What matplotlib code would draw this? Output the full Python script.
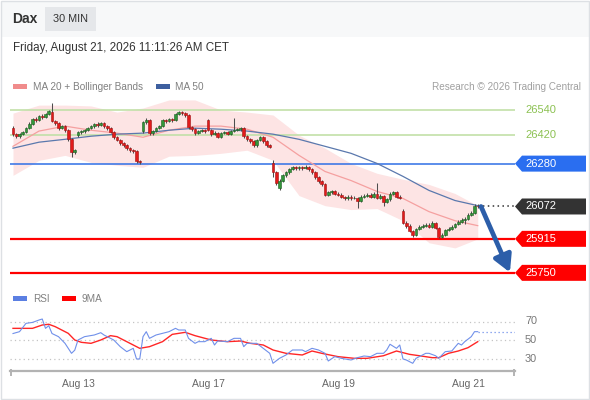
import matplotlib
matplotlib.use("Agg")
import matplotlib.pyplot as plt
import matplotlib.transforms as mtransforms
from matplotlib.patches import Rectangle, Polygon

plt.rcParams["font.family"] = ["Liberation Sans", "DejaVu Sans"]

# ---- data (30 min candles, Aug 12 - Aug 21) ----
opens = [
    26452, 26423, 26413, 26423, 26433, 26452, 26472, 26496, 26491, 26511,
    26506, 26520, 26530, 26486, 26477, 26452, 26462, 26442, 26398, 26335,
    26418, 26433, 26438, 26442, 26452, 26462, 26472, 26467, 26477, 26462,
    26452, 26433, 26408, 26394, 26379, 26369, 26355, 26345, 26340, 26291,
    26438, 26481, 26491, 26428, 26438, 26452, 26462, 26491, 26486, 26496,
    26491, 26520, 26530, 26525, 26516, 26457, 26447, 26428, 26438, 26442,
    26491, 26442, 26423, 26428, 26408, 26428, 26433, 26423, 26438, 26442,
    26447, 26452, 26413, 26398, 26389, 26369, 26394, 26408, 26389, 26369,
    26281, 26237, 26164, 26198, 26223, 26237, 26252, 26262, 26257, 26262,
    26257, 26262, 26252, 26237, 26213, 26194, 26179, 26130, 26140, 26145,
    26135, 26130, 26120, 26111, 26120, 26111, 26115, 26101, 26120, 26125,
    26130, 26120, 26135, 26115, 26125, 26096, 26106, 26135, 26140, 26120,
    26052, 25993, 25979, 25954, 25935, 25964, 25974, 25979, 25984, 25974,
    25993, 25969, 25925, 25935, 25959, 25964, 25974, 25988, 25998, 26008,
    26013, 26032, 26042, 26076,
]
closes = [
    26423, 26413, 26423, 26433, 26452, 26472, 26496, 26491, 26511, 26506,
    26520, 26535, 26486, 26477, 26452, 26462, 26442, 26398, 26335, 26345,
    26433, 26438, 26442, 26452, 26462, 26472, 26467, 26477, 26462, 26452,
    26433, 26408, 26394, 26379, 26369, 26355, 26345, 26340, 26291, 26286,
    26481, 26491, 26428, 26438, 26452, 26462, 26491, 26486, 26496, 26491,
    26520, 26530, 26525, 26516, 26457, 26447, 26428, 26438, 26442, 26438,
    26442, 26423, 26428, 26408, 26428, 26433, 26423, 26438, 26442, 26447,
    26452, 26413, 26398, 26389, 26369, 26394, 26408, 26389, 26369, 26359,
    26237, 26184, 26198, 26223, 26237, 26252, 26262, 26257, 26262, 26257,
    26262, 26252, 26237, 26213, 26194, 26179, 26130, 26140, 26145, 26135,
    26130, 26120, 26111, 26120, 26111, 26115, 26101, 26120, 26125, 26130,
    26120, 26135, 26115, 26125, 26096, 26106, 26135, 26140, 26120, 26115,
    25993, 25979, 25954, 25935, 25964, 25974, 25979, 25984, 25974, 25993,
    25969, 25925, 25935, 25959, 25964, 25974, 25988, 25998, 26008, 26013,
    26032, 26042, 26076, 26072,
]
highs = [
    26462, 26430, 26430, 26440, 26458, 26480, 26503, 26506, 26518, 26520,
    26528, 26542, 26574, 26494, 26484, 26468, 26468, 26447, 26403, 26352,
    26440, 26445, 26450, 26458, 26468, 26478, 26480, 26484, 26482, 26468,
    26457, 26438, 26414, 26400, 26385, 26374, 26362, 26352, 26346, 26296,
    26488, 26503, 26496, 26445, 26458, 26468, 26498, 26498, 26503, 26503,
    26527, 26537, 26537, 26530, 26521, 26464, 26452, 26445, 26450, 26448,
    26498, 26448, 26437, 26433, 26434, 26440, 26440, 26444, 26501, 26455,
    26458, 26457, 26418, 26405, 26395, 26400, 26415, 26413, 26394, 26374,
    26296, 26242, 26204, 26230, 26244, 26258, 26270, 26268, 26270, 26268,
    26272, 26267, 26257, 26242, 26218, 26200, 26184, 26148, 26152, 26150,
    26142, 26136, 26125, 26127, 26126, 26122, 26120, 26126, 26132, 26137,
    26136, 26142, 26184, 26132, 26130, 26114, 26142, 26148, 26145, 26126,
    26058, 26000, 25985, 25960, 25970, 25982, 25986, 25992, 25990, 26003,
    25998, 25974, 25945, 25965, 25972, 25980, 25994, 26005, 26014, 26020,
    26038, 26050, 26082, 26084,
]
lows = [
    26413, 26403, 26405, 26418, 26428, 26447, 26467, 26484, 26486, 26498,
    26500, 26515, 26480, 26468, 26445, 26447, 26435, 26390, 26311, 26328,
    26410, 26426, 26430, 26437, 26447, 26455, 26460, 26462, 26455, 26445,
    26427, 26400, 26388, 26372, 26362, 26348, 26338, 26330, 26284, 26276,
    26430, 26474, 26420, 26420, 26432, 26446, 26457, 26478, 26480, 26484,
    26486, 26514, 26518, 26508, 26450, 26440, 26420, 26422, 26432, 26430,
    26436, 26416, 26417, 26402, 26403, 26422, 26417, 26418, 26432, 26436,
    26440, 26406, 26390, 26380, 26362, 26363, 26388, 26382, 26362, 26354,
    26213, 26176, 26150, 26192, 26217, 26232, 26247, 26250, 26250, 26250,
    26252, 26245, 26230, 26206, 26186, 26172, 26122, 26124, 26134, 26128,
    26122, 26112, 26103, 26105, 26104, 26106, 26067, 26096, 26114, 26118,
    26114, 26115, 26108, 26109, 26076, 26090, 26100, 26128, 26113, 26108,
    25986, 25970, 25946, 25925, 25930, 25958, 25968, 25972, 25966, 25968,
    25962, 25918, 25918, 25930, 25952, 25957, 25968, 25982, 25992, 25985,
    26006, 26026, 26036, 26064,
]

# MA 20 / Bollinger / MA 50, read every 8 candles
ma_idx = [0, 8, 16, 24, 32, 40, 48, 56, 64, 72, 80, 88, 96, 104, 112, 120, 128, 136, 143]
ma20 = [26364, 26438, 26462, 26442, 26428, 26408, 26442, 26462, 26462, 26447,
        26408, 26320, 26242, 26198, 26145, 26111, 26047, 26003, 25979]
ma50 = [26355, 26384, 26398, 26413, 26423, 26428, 26442, 26452, 26447, 26438,
        26423, 26398, 26364, 26330, 26281, 26218, 26150, 26101, 26076]
bb_up = [26525, 26564, 26564, 26560, 26530, 26550, 26589, 26589, 26540, 26530,
         26516, 26418, 26355, 26281, 26233, 26204, 26179, 26135, 26076]
bb_lo = [26223, 26296, 26320, 26286, 26272, 26262, 26316, 26320, 26330, 26345,
         26296, 26125, 26076, 26057, 26062, 26003, 25896, 25871, 25915]

# RSI and its 9 period MA
rsi_idx = [0, 2, 4, 6, 8, 9, 10, 11, 12, 14, 16, 18, 19, 20, 22, 25, 27, 28, 31, 33,
           35, 37, 38, 39, 40, 41, 42, 44, 46, 48, 50, 51, 53, 54, 56, 57, 59, 61, 62, 63,
           66, 68, 70, 71, 72, 75, 77, 79, 80, 82, 84, 86, 89, 90, 92, 94, 96, 97, 99, 101,
           104, 106, 108, 110, 112, 114, 115, 116, 118, 119, 120, 121, 123, 124, 127, 128, 130, 131, 133, 135,
           137, 138, 139, 141, 142, 143]
rsi_val = [57, 59, 68, 69, 71.6, 72.7, 62.6, 65.5, 57, 53.6, 46.4, 35.6, 39, 50, 53.6, 55.4, 57.9, 55.4, 50, 42.8,
           37.4, 41, 29.5, 29.5, 53.6, 59, 51.8, 55.4, 57.2, 59, 62.6, 60.8, 60.8, 51.8, 46.4, 48.2, 48.2, 51.8, 44.6, 49,
           48.2, 51.8, 51.8, 42.8, 46.4, 46.4, 41, 35.6, 24.8, 30.2, 33.8, 39.2, 39.2, 37.4, 41, 39.2, 35.6, 27.3, 32, 30.2,
           28.4, 30.9, 32.7, 32, 35.6, 35.6, 39.2, 45.4, 41, 44.6, 29.5, 28.4, 24.8, 30.2, 35.6, 35.6, 33, 30.2, 37.4, 38.1,
           46.4, 44.6, 48.2, 53.6, 59, 59]
ma9_idx = [0, 6, 9, 11, 13, 17, 19, 21, 24, 27, 30, 32, 35, 39, 42, 46, 49, 53, 56, 61,
           66, 70, 73, 77, 80, 84, 89, 92, 95, 100, 105, 109, 114, 118, 122, 125, 129, 131, 134, 137,
           140, 143]
ma9_val = [62.6, 62.6, 66.2, 67, 64.4, 57.2, 50, 47.5, 46.4, 50, 54.7, 53.6, 48.2, 41, 42.8, 48.2, 56.1, 58.3, 54.7, 50,
           48.2, 48.9, 46.4, 44.6, 39.2, 35.6, 33.8, 38.1, 35.6, 32, 30.2, 30.2, 33, 38.1, 34.5, 33, 30.9, 30.9, 35.6, 38.1,
           41.7, 48.2]

day_ticks = [20, 60, 100, 140]
day_labels = ["Aug 13", "Aug 17", "Aug 19", "Aug 21"]

green_levels = [26540, 26420]
blue_level = 26280
last_price = 26072
red_levels = [25915, 25750]
rsi_levels = [70, 50, 30]

# ---- layout (pixel based) ----
W, H = 590, 400
PX_X0, PX_X1 = 10, 515
IDX_L = (PX_X0 - 13) / 3.25
IDX_R = (PX_X1 - 13) / 3.25


def frame(top, bottom):
    return [PX_X0 / W, 1 - bottom / H, (PX_X1 - PX_X0) / W, (bottom - top) / H]


def ax_x(px):
    return (px - PX_X0) / (PX_X1 - PX_X0)


fig = plt.figure(figsize=(W / 100, H / 100), dpi=100)
fig.patch.set_facecolor("white")

bg = fig.add_axes([0, 0, 1, 1], zorder=0)
bg.set_xlim(0, W)
bg.set_ylim(H, 0)
bg.axis("off")
bg.add_patch(Rectangle((1, 1), W - 2, 36, fc="#f7f8f9", ec="none"))
bg.add_patch(Rectangle((0.5, 0.5), W - 1.5, H - 1.5, fill=False, ec="#dde0e4", lw=1))
bg.add_patch(Rectangle((45, 7), 51, 24, fc="#e5e7ea", ec="none"))
bg.text(12, 19, "Dax", fontsize=10, fontweight="bold", color="#333333", va="center")
bg.text(70.5, 19, "30 MIN", fontsize=7.8, color="#333333", va="center", ha="center")
bg.text(13, 48, "Friday, August 21, 2026 11:11:26 AM CET", fontsize=8.4, color="#333333", va="center")

# legends
bg.add_patch(Rectangle((13, 84), 14, 5, fc="#f08c8c", ec="none"))
bg.text(33, 86.5, "MA 20 + Bollinger Bands", fontsize=7.2, color="#808080", va="center")
bg.add_patch(Rectangle((156, 84), 14, 5, fc="#3d5f9f", ec="none"))
bg.text(175, 86.5, "MA 50", fontsize=7.2, color="#808080", va="center")
bg.text(581, 86.5, "Research \u00a9 2026 Trading Central", fontsize=7.2, color="#a0a0a0",
        va="center", ha="right")
bg.add_patch(Rectangle((13, 296), 14, 5, fc="#5b7fe2", ec="none"))
bg.text(33, 298.5, "RSI", fontsize=7.2, color="#808080", va="center")
bg.add_patch(Rectangle((62, 296), 14, 5, fc="#ff0000", ec="none"))
bg.text(82, 298.5, "9MA", fontsize=7.2, color="#808080", va="center")

# ---- price panel ----
ax = fig.add_axes(frame(95, 285), zorder=2)
ax.patch.set_visible(False)
ax.axis("off")
ax.set_xlim(IDX_L, IDX_R)
ax.set_ylim(25691, 26613)

ax.fill_between(ma_idx, bb_lo, bb_up, color="#fde4e4", lw=0, zorder=0.5)
ax.plot(ma_idx, ma20, color="#f5a0a0", lw=0.9, zorder=1)
ax.plot(ma_idx, ma50, color="#5a78ad", lw=0.9, zorder=1)

for lv in green_levels:
    ax.axhline(lv, color="#c2e0a8", lw=1.2, zorder=0.8)
ax.axhline(blue_level, color="#2f6fe6", lw=1.1, zorder=0.8)
for lv in red_levels:
    ax.axhline(lv, color="#ff0000", lw=1.6, zorder=0.8)

n = len(closes)
ax.plot([n - 1, IDX_R], [last_price, last_price], color="#333333", lw=1.1,
        ls=(0, (1, 2.2)), zorder=1)

idx = list(range(n))
up = [c >= o for o, c in zip(opens, closes)]
body_col = ["#33963a" if u else "#e21b1b" for u in up]
edge_col = ["#1d5e22" if u else "#9e1212" for u in up]
ax.vlines(idx, lows, highs, color="#4d4d4d", lw=0.75, zorder=2)
heights = [max(abs(c - o), 4) for o, c in zip(opens, closes)]
bottoms = [min(o, c) for o, c in zip(opens, closes)]
ax.bar(idx, heights, bottom=bottoms, width=0.84, color=body_col, edgecolor=edge_col,
       linewidth=0.4, zorder=3)

# right-hand price tags
tr = mtransforms.blended_transform_factory(ax.transAxes, ax.transData)
half = 8 * 4.85


def tag(price, color):
    pts = [(ax_x(515), price), (ax_x(522), price + half), (ax_x(586), price + half),
           (ax_x(586), price - half), (ax_x(522), price - half)]
    ax.add_patch(Polygon(pts, closed=True, fc=color, ec="none", transform=tr,
                         clip_on=False, zorder=4))
    ax.text(ax_x(525), price, f"{price}", color="white", fontsize=8, va="center",
            transform=tr, clip_on=False, zorder=5)


for lv in green_levels:
    ax.text(ax_x(525), lv, f"{lv}", color="#8cc152", fontsize=8, va="center",
            transform=tr, clip_on=False)
tag(blue_level, "#2a6ef0")
tag(last_price, "#333333")
for lv in red_levels:
    tag(lv, "#ff0000")

ax.annotate("", xy=(n + 8.9, red_levels[1] + 2), xytext=(n, last_price),
            arrowprops=dict(arrowstyle="-|>,head_length=1.0,head_width=0.55",
                            color="#2c5ea9", lw=3.4, shrinkA=0, shrinkB=0),
            zorder=5, annotation_clip=False)

# ---- RSI panel ----
rax = fig.add_axes(frame(305, 371), zorder=2)
rax.patch.set_visible(False)
rax.set_xlim(IDX_L, IDX_R)
rax.set_ylim(50 - 31 / 0.925, 50 + 35 / 0.925)
for s in ("top", "left", "right"):
    rax.spines[s].set_visible(False)
rax.spines["bottom"].set_color("#b3b3b3")
rax.spines["bottom"].set_linewidth(1.6)
rax.set_yticks([])
rax.set_xticks(day_ticks)
rax.set_xticklabels(day_labels)
rax.tick_params(axis="x", length=0, pad=6, labelsize=7.5, labelcolor="#666666")

rtr = mtransforms.blended_transform_factory(rax.transAxes, rax.transData)
for lv in rsi_levels:
    rax.axhline(lv, color="#c4c4c4", lw=0.9, ls=(0, (1, 2.5)), zorder=0.5)
    rax.text(ax_x(525), lv, f"{lv}", color="#777777", fontsize=7.8, va="center",
             transform=rtr, clip_on=False)

rax.plot(ma9_idx, ma9_val, color="#ff2626", lw=1.0, zorder=2)
rax.plot(rsi_idx, rsi_val, color="#7090ea", lw=0.8, zorder=3)
rax.plot([rsi_idx[-1], IDX_R], [rsi_val[-1], rsi_val[-1]], color="#7090ea", lw=0.9,
         ls=(0, (1, 2.2)), zorder=3)

# end ticks of the time axis
bg.plot([11, 11], [370, 375], color="#b3b3b3", lw=1.4)
bg.plot([514, 514], [370, 375], color="#b3b3b3", lw=1.4)

fig.savefig("out.png", dpi=100)
